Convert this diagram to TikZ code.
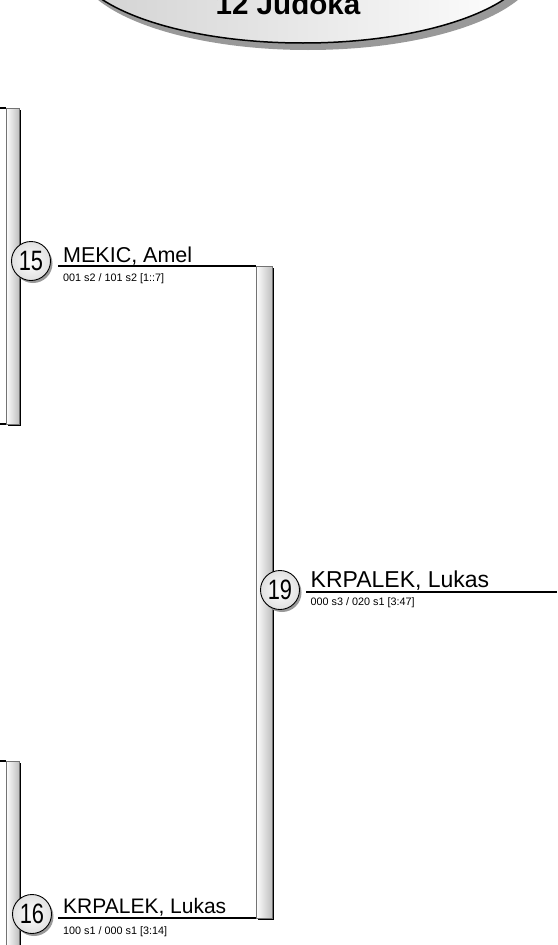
\documentclass[tikz,border=0pt]{standalone}
\usepackage{graphicx}
\usepackage{fontspec}
\setmainfont{Liberation Sans}
\usetikzlibrary{positioning,shadows}

\begin{document}
\begin{tikzpicture}[x=1pt,y=-1pt,
  bar/.style={draw=black!55,line width=0.6pt,outer sep=0pt,inner sep=0pt,
    left color=white,right color=black!25,anchor=north west,
    drop shadow={shadow xshift=2pt,shadow yshift=-2pt,fill=black,opacity=1}},
  ball/.style={circle,draw,line width=0.9pt,minimum size=39pt,inner sep=0pt,
    inner color=white,outer color=black!12,
    drop shadow={shadow xshift=2pt,shadow yshift=-2.5pt,fill=black!40,opacity=1},
    font=\fontsize{28}{28}\selectfont},
  wire/.style={line width=1.3pt},
  player/.style={anchor=base west,inner sep=0pt},
  score/.style={anchor=base west,inner sep=0pt,font=\fontsize{10.8}{11}\selectfont}]
\useasboundingbox (0,0) rectangle (557,945);
% banner
\fill[black!40] (308,-36) ellipse [x radius=231, y radius=86];
\shade[left color=black!18,right color=white,draw=black,line width=1.5pt] (303,-43) ellipse [x radius=231, y radius=86];
\node[font=\bfseries\fontsize{29.6}{30}\selectfont,anchor=base,inner sep=0pt] (title) at (288,14) {12 Judoka};
% bars
\node[bar,minimum width=13pt,minimum height=316pt] (bar1) at (6,108) {};
\node[bar,minimum width=16pt,minimum height=652pt] (bar2) at (256,266) {};
\node[bar,minimum width=13pt,minimum height=200pt] (bar3) at (6,761) {};
% lines
\coordinate (l1) at (0,108);
\coordinate (l2) at (0,424);
\coordinate (l3) at (0,761);
\coordinate (a15) at (58,266);
\coordinate (a16) at (58,918);
\coordinate (a19) at (306,592);
\coordinate (e19) at (557,592);
\draw[wire] (l1) -- (bar1.north west);
\draw[wire] (l2) -- (bar1.south west);
\draw[wire] (l3) -- (bar3.north west);
\draw[wire] (a15) -- (bar2.north west);
\draw[wire] (a16) -- (bar2.south west);
\draw[wire] (a19) -- (e19);
% matches
\node[ball] (m15) at (31,261) {\scalebox{0.78}[1]{15}};
\node[ball] (m19) at (280,590) {\scalebox{0.78}[1]{19}};
\node[ball] (m16) at (32,914) {\scalebox{0.78}[1]{16}};
\node[player,font=\fontsize{21.5}{22}\selectfont] (n15) at (63,262) {MEKIC, Amel};
\node[score] (s15) at (63,281.5) {001 s2 / 101 s2 [1::7]};
\node[player,font=\fontsize{23}{24}\selectfont] (n19) at (310.5,587) {KRPALEK, Lukas};
\node[score] (s19) at (310.5,605) {000 s3 / 020 s1 [3:47]};
\node[player,font=\fontsize{21}{22}\selectfont] (n16) at (63,913) {KRPALEK, Lukas};
\node[score] (s16) at (63,934) {100 s1 / 000 s1 [3:14]};
\end{tikzpicture}
\end{document}
